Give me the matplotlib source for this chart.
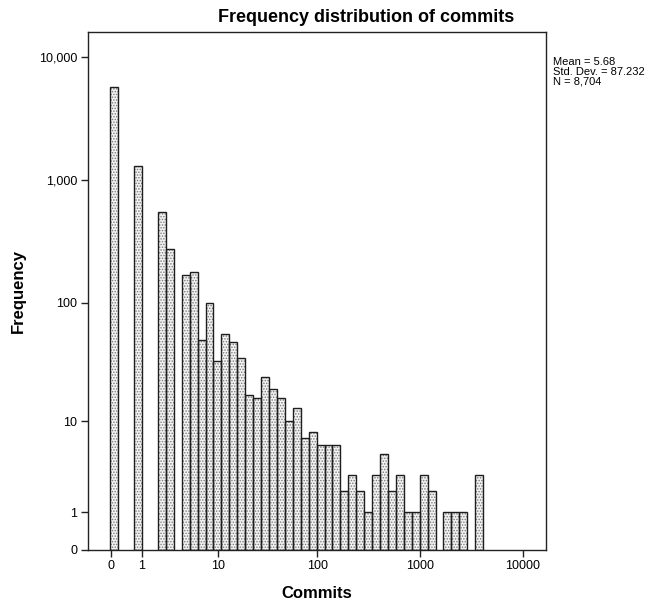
import numpy as np
import matplotlib
matplotlib.use("Agg")
import matplotlib.pyplot as plt

plt.rcParams["font.family"] = ["Liberation Sans", "DejaVu Sans"]
plt.rcParams["hatch.linewidth"] = 0.7

# histogram of log10(commits + 1), bins
BIN_START = -0.003
BIN_WIDTH = 0.077
freq = [5728, 0, 0, 1299, 0, 0, 551, 277, 0, 170,
        178, 49, 100, 33, 55, 47, 35, 17, 16, 24,
        19, 16, 10, 13, 7, 8, 6, 6, 6, 2,
        3, 2, 1, 3, 5, 2, 3, 1, 1, 3,
        2, 0, 1, 1, 1, 0, 3]

tick_vals = [0, 1, 10, 100, 1000, 10000]
x_tick_labels = ["0", "1", "10", "100", "1000", "10000"]
y_tick_labels = ["0", "1", "10", "100", "1,000", "10,000"]

stats_text = "Mean = 5.68\nStd. Dev. = 87.232\nN = 8,704"


def fwd(v):
    return np.log10(np.maximum(np.asarray(v, dtype=float) + 1, 1e-12))


def inv(v):
    return 10 ** np.asarray(v, dtype=float) - 1


freq = np.array(freq, dtype=float)
idx = np.arange(len(freq))
lo = inv(BIN_START + idx * BIN_WIDTH)
hi = inv(BIN_START + (idx + 1) * BIN_WIDTH)
keep = freq > 0

fig = plt.figure(figsize=(6.66, 6.03), dpi=100)
ax = fig.add_axes([87.5 / 666, 1 - 549.5 / 603, 458.5 / 666, 517.5 / 603])
ax.set_xscale("function", functions=(fwd, inv))
ax.set_yscale("function", functions=(fwd, inv))

ax.bar(lo[keep], freq[keep], width=(hi - lo)[keep], align="edge",
       facecolor="#f2f2f2", edgecolor="#7a7a7a", hatch="......", linewidth=0)
ax.bar(lo[keep], freq[keep], width=(hi - lo)[keep], align="edge",
       fill=False, edgecolor="#1e1e1e", linewidth=1.0)

ax.set_xlim(inv(-0.2252), inv(4.2262))
ax.set_ylim(0, inv(4.203))

ax.set_xticks(tick_vals)
ax.set_xticklabels(x_tick_labels)
ax.set_yticks(tick_vals)
ax.set_yticklabels(y_tick_labels)
ax.minorticks_off()
ax.tick_params(direction="out", length=5, width=1, color="#222222",
               labelsize=9, pad=2.5)

for s in ax.spines.values():
    s.set_color("#222222")
    s.set_linewidth(1.0)

ax.set_xlabel("Commits", fontsize=12, fontweight="bold", labelpad=10)
ax.set_ylabel("Frequency", fontsize=12, fontweight="bold", labelpad=9)

fig.text(366 / 666, 1 - 18 / 603, "Frequency distribution of commits",
         ha="center", va="center", fontsize=13, fontweight="bold")
fig.text(553 / 666, 1 - 57 / 603, stats_text, ha="left", va="top",
         fontsize=8, linespacing=1.0)

fig.savefig("out.png", dpi=100)
